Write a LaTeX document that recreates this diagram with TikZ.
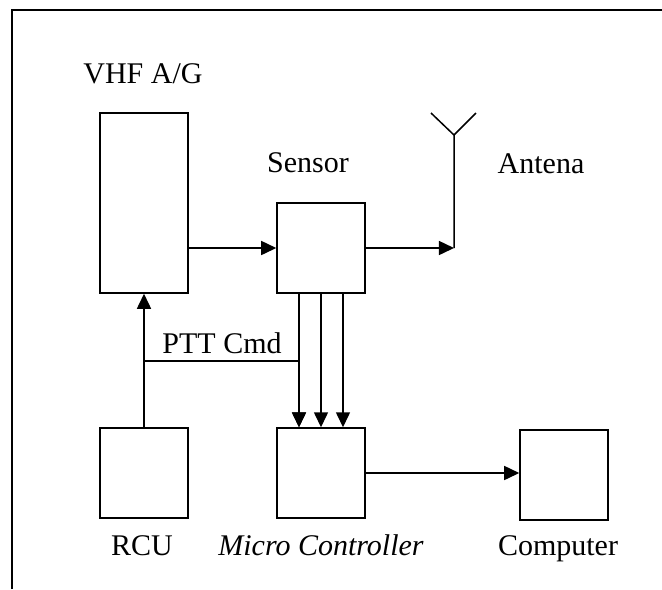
\documentclass[tikz,border=0pt]{standalone}
\usepackage{fontspec}
\setmainfont{Liberation Serif}
\usetikzlibrary{arrows.meta,positioning}

\begin{document}
\begin{tikzpicture}[
    x=0.4pt, y=-0.4pt,
    font=\fontsize{12}{14}\selectfont,
    box/.style={
        draw,
        line width=0.6pt,
        minimum width=35.2pt,
        minimum height=36pt,
        inner sep=0pt
    },
    lbl/.style={inner sep=0pt, anchor=base},
    arrow/.style={-{Triangle[length=6pt,width=5.6pt]}, line width=0.6pt}
]
\useasboundingbox (0,0) rectangle (662,589);
% frame
\draw[line width=0.8pt] (12,589) -- (12,10) -- (662,10);

\node[box, minimum height=72pt] (vhf) at (144,203) {};
\node[box] (sensor) at (321,248) {};
\node[box] (rcu) at (144,473) {};
\node[box] (mc) at (321,473) {};
\node[box] (comp) at (564,475) {};

\node[lbl] (vhflbl) at (143,83) {VHF A/G};
\node[lbl] (sensorlbl) at (308,172) {Sensor};
\node[lbl] (antlbl) at (541,173) {Antena};
\node[lbl] (pttlbl) at (222,353) {PTT Cmd};
\node[lbl] (rculbl) at (142,555) {RCU};
\node[lbl] (mclbl) at (321,555) {\itshape Micro Controller};
\node[lbl] (complbl) at (558,555) {Computer};

% antenna
\coordinate (feed) at (454,248);
\coordinate (anttop) at (454,135);
\draw[line width=0.6pt] (feed) -- (anttop) -- (431,113);
\draw[line width=0.6pt] (anttop) -- (476,113);

% signal paths
\draw[arrow] (vhf.east |- sensor.west) -- (sensor.west);
\draw[arrow] (sensor.east) -- (feed);
\foreach \dx in {-8.8,0,8.8}
  \draw[arrow] ([xshift=\dx pt]sensor.south) -- ([xshift=\dx pt]mc.north);

% PTT command
\coordinate (ptt) at (144,361);
\draw[arrow] (rcu.north) -- (vhf.south);
\draw[arrow] (ptt) -| ([xshift=-8.8pt]mc.north);

\draw[arrow] (mc.east) -- (mc.east -| comp.west);
\end{tikzpicture}
\end{document}
